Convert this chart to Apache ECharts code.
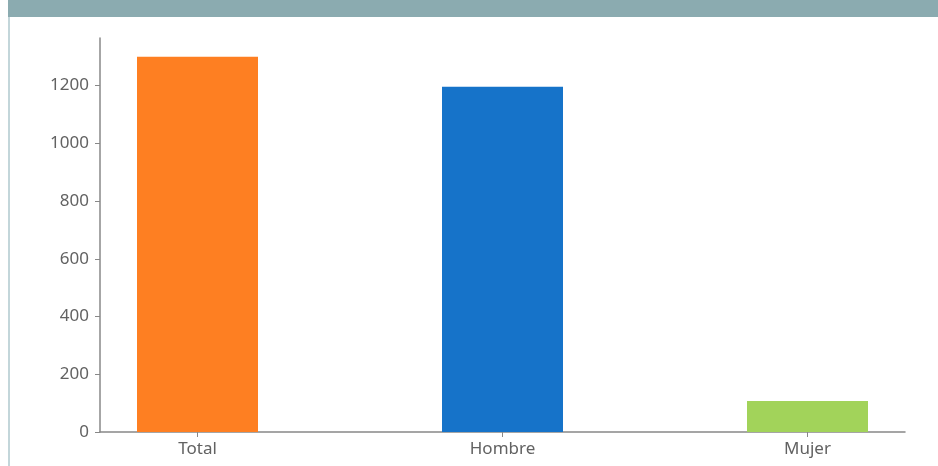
<!DOCTYPE html>
<html>
<head>
<meta charset="utf-8">
<script src="https://cdn.jsdelivr.net/npm/echarts@6/dist/echarts.min.js"></script>
<style>
  html, body { margin: 0; padding: 0; background: #ffffff; }
  #chart { width: 938px; height: 466px; }
</style>
</head>
<body>
<div id="chart"></div>
<script>
// Headcount by group
const categories = ['Total', 'Hombre', 'Mujer'];
const values = [1300, 1196, 107];
const barColors = ['#fe7f22', '#1673c9', '#a2d35a'];
const yTicks = [0, 200, 400, 600, 800, 1000, 1200];
const yMax = 1365;

const chart = echarts.init(document.getElementById('chart'), null, { renderer: 'canvas' });

const labelFont = {
  color: '#626262',
  fontSize: 17,
  fontFamily: '"Noto Sans", "Open Sans", sans-serif'
};

chart.setOption({
  animation: false,
  backgroundColor: '#ffffff',
  graphic: [
    { type: 'rect', shape: { x: 8, y: 0, width: 930, height: 17 }, style: { fill: '#8babb0' }, silent: true },
    { type: 'rect', shape: { x: 8, y: 17, width: 2, height: 449 }, style: { fill: '#c3d6da' }, silent: true }
  ],
  grid: [
    // frame grid: carries the y axis and the baseline
    { left: 100, right: 33, top: 38, bottom: 34 },
    // point grid: first and last category sit on its edges
    { left: 197.5, right: 130.5, top: 38, bottom: 34 }
  ],
  xAxis: [
    {
      gridIndex: 0, type: 'value', min: 0, max: 1,
      axisLine: { show: true, lineStyle: { color: '#888888', width: 1.5 } },
      axisTick: { show: false }, axisLabel: { show: false }, splitLine: { show: false }
    },
    {
      gridIndex: 1, type: 'category', data: categories, boundaryGap: false,
      axisLine: { show: false },
      axisTick: { show: true, length: 5, lineStyle: { color: '#888888' } },
      axisLabel: Object.assign({ margin: 9 }, labelFont),
      splitLine: { show: false }
    }
  ],
  yAxis: [
    {
      gridIndex: 0, type: 'value', min: 0, max: yMax,
      axisLine: { show: true, lineStyle: { color: '#888888', width: 1.5 } },
      axisTick: { show: true, length: 5, customValues: yTicks, lineStyle: { color: '#888888' } },
      axisLabel: Object.assign({ margin: 11, customValues: yTicks, formatter: v => String(v) }, labelFont),
      splitLine: { show: false }
    },
    {
      gridIndex: 1, type: 'value', min: 0, max: yMax, show: false
    }
  ],
  series: [
    {
      type: 'bar',
      xAxisIndex: 1, yAxisIndex: 1,
      barWidth: 121,
      data: values.map((v, i) => ({ value: v, itemStyle: { color: barColors[i] } }))
    }
  ]
});
</script>
</body>
</html>
